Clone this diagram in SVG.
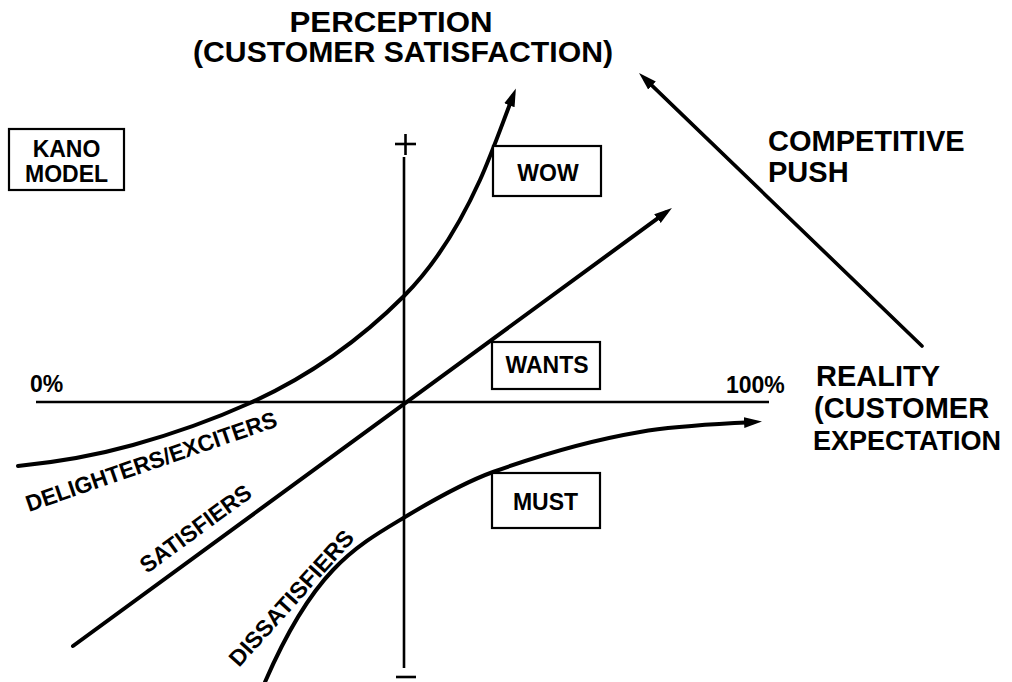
<svg xmlns="http://www.w3.org/2000/svg" width="1012" height="682" viewBox="0 0 1012 682">
<style>
  .t { font-family: "Liberation Sans", Arial, sans-serif; font-weight: bold; fill: #000; }
  .big { font-size: 29px; }
  .sm { font-size: 23px; }
  .rot { font-size: 23px; }
  .box { fill: #fff; stroke: #000; stroke-width: 2.2; }
  .axis { fill: none; stroke: #000; stroke-width: 2.6; }
  .curve { fill: none; stroke: #000; stroke-width: 4; stroke-linecap: round; }
  .push { fill: none; stroke: #000; stroke-width: 3.6; stroke-linecap: round; }
</style>
<defs>
  <marker id="ah" markerUnits="userSpaceOnUse" markerWidth="20" markerHeight="14" viewBox="0 0 20 14" refX="10" refY="7" orient="auto">
    <path d="M0,1.5 L18,7 L0,12.5 z" fill="#000"/>
  </marker>
</defs>
<rect width="1012" height="682" fill="#fff"/>

<g id="axes">
  <line class="axis" x1="36" y1="402" x2="769" y2="402"/>
  <line class="axis" x1="404" y1="157" x2="404" y2="668"/>
  <line class="axis" x1="395" y1="144" x2="416" y2="144" stroke-width="3"/>
  <line class="axis" x1="405.5" y1="134" x2="405.5" y2="155" stroke-width="3"/>
  <line class="axis" x1="396" y1="677" x2="416" y2="677" stroke-width="3"/>
</g>

<g id="connectors">
  <path id="delighters" class="curve" marker-end="url(#ah)" d="M18,466 C56.3,462.2 94.7,455.7 133,445 C172,434.1 211,420.6 250,403 C301.3,379.9 352.7,347.3 404,296 C429.3,270.7 454.7,235.7 480,180 C491,155.8 502,124.6 513,96"/>
  <path id="satisfiers" class="curve" marker-end="url(#ah)" d="M73,646 L665.5,212.7"/>
  <path id="dissatisfiers" class="curve" marker-end="url(#ah)" d="M265,682 C287.7,629.8 310.3,593.8 333,570 C357,544.8 381,531.4 405,517 C434.3,499.4 463.7,482.6 493,472 C542,454.4 591,440.3 640,432 C678,425.5 716,424.3 754,422"/>
  <path id="competitive-push" class="push" marker-end="url(#ah)" d="M922,346 L644.8,78.6"/>
</g>

<g id="title-perception">
  <text class="t big" x="391" y="32" text-anchor="middle" textLength="203" lengthAdjust="spacingAndGlyphs">PERCEPTION</text>
  <text class="t big" x="403" y="62" text-anchor="middle" textLength="420" lengthAdjust="spacingAndGlyphs">(CUSTOMER SATISFACTION)</text>
</g>

<g id="kano-model">
  <rect class="box" x="9" y="129" width="115" height="61"/>
  <text class="t sm" x="66.5" y="157" text-anchor="middle" font-size="22">KANO</text>
  <text class="t sm" x="66.5" y="182" text-anchor="middle" font-size="22">MODEL</text>
</g>

<g id="wow">
  <rect class="box" x="493" y="146" width="108" height="50"/>
  <text class="t sm" x="548" y="181" text-anchor="middle">WOW</text>
</g>

<g id="wants">
  <rect class="box" x="492" y="342" width="108" height="47"/>
  <text class="t sm" x="547" y="373" text-anchor="middle">WANTS</text>
</g>

<g id="must">
  <rect class="box" x="492" y="473" width="108" height="55"/>
  <text class="t sm" x="545.5" y="510" text-anchor="middle">MUST</text>
</g>

<g id="competitive">
  <text class="t big" x="768" y="151">COMPETITIVE</text>
  <text class="t big" x="768" y="182">PUSH</text>
</g>

<g id="reality">
  <text class="t big" x="816" y="386">REALITY</text>
  <text class="t big" x="814" y="418">(CUSTOMER</text>
  <text class="t" x="813" y="450" font-size="27">EXPECTATION</text>
</g>

<g id="scale-labels">
  <text class="t sm" x="30" y="392" font-size="23">0%</text>
  <text class="t sm" x="726" y="393" font-size="23">100%</text>
</g>

<g id="curve-labels">
  <text class="t rot" transform="translate(29,512) rotate(-19)" textLength="264" lengthAdjust="spacingAndGlyphs">DELIGHTERS/EXCITERS</text>
  <text class="t rot" transform="translate(147,574) rotate(-36.2)" textLength="132" lengthAdjust="spacingAndGlyphs">SATISFIERS</text>
  <text class="t rot" transform="translate(239,668) rotate(-48)" textLength="174" lengthAdjust="spacingAndGlyphs">DISSATISFIERS</text>
</g>
</svg>
